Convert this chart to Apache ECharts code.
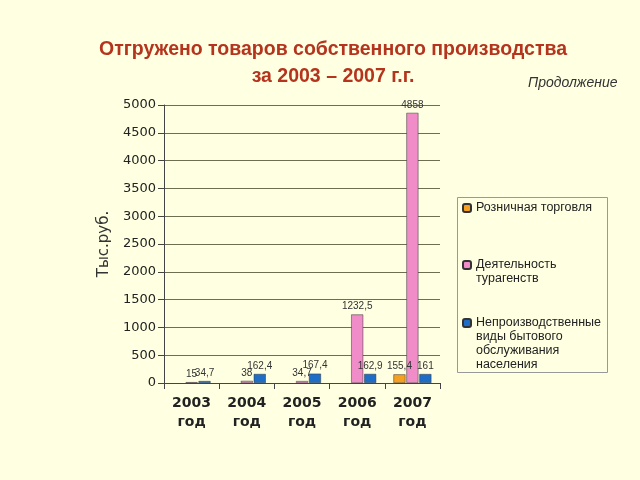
<!DOCTYPE html>
<html><head><meta charset="utf-8">
<script src="https://cdn.jsdelivr.net/npm/echarts@6/dist/echarts.min.js"></script>
<style>html,body{margin:0;padding:0;background:#FFFFE1;}#c{width:640px;height:480px;}</style>
</head><body><div id="c"></div>
<script>
var categories = ['2003\nгод', '2004\nгод', '2005\nгод', '2006\nгод', '2007\nгод'];
var retail = [null, null, null, null, 155.4];
var tourism = [15, 38, 34.7, 1232.5, 4858];
var services = [34.7, 162.4, 167.4, 162.9, 161];
var seriesNames = ['Розничная торговля', 'Деятельность\nтурагенств', 'Непроизводственные\nвиды бытового\nобслуживания\nнаселения'];
var yTicks = [0, 500, 1000, 1500, 2000, 2500, 3000, 3500, 4000, 4500, 5000];

var fmt = function (p) { return p.value == null ? '' : String(p.value).replace('.', ','); };
var lbl = { show: true, position: 'top', fontSize: 10, color: '#333', fontFamily: 'Liberation Sans', formatter: fmt, distance: 3 };
function mk(name, data, color) {
  return { name: name, type: 'bar', data: data, barWidth: 12, barGap: '8%',
    itemStyle: { color: color, borderColor: '#333', borderWidth: 0.5 }, label: lbl };
}
// put the legend marker beside the first line of a multi-line name
function firstLineFmt(name) {
  var n = name.split('\n').length;
  var pre = '';
  for (var i = 1; i < n; i++) pre += ' \n';
  return pre + name;
}
var chart = echarts.init(document.getElementById('c'));
var legendText = { fontSize: 12.5, color: '#222', fontFamily: 'Liberation Sans', lineHeight: 14 };
function lg(i, top) {
  return { data: [seriesNames[i]], left: 462, top: top, orient: 'vertical', padding: 0,
    itemWidth: 8, itemHeight: 8, textStyle: legendText, selectedMode: false, formatter: firstLineFmt };
}
chart.setOption({
  backgroundColor: '#FFFFE1',
  title: [{
    text: 'Отгружено товаров собственного производства\nза 2003 – 2007 г.г.',
    left: 328, top: 31, textAlign: 'center',
    textStyle: { fontSize: 19.5, fontWeight: 'bold', color: '#B5341E', fontFamily: 'Liberation Sans', lineHeight: 27 }
  }, {
    text: 'Продолжение', left: 523, top: 71,
    textStyle: { fontSize: 14, fontStyle: 'italic', fontWeight: 'normal', color: '#333', fontFamily: 'Liberation Sans' }
  }],
  graphic: [{ type: 'rect', shape: { x: 457.5, y: 197.5, width: 150, height: 175 }, style: { fill: '#FFFFE1', stroke: '#999', lineWidth: 1 }, z: 0 }],
  legend: [lg(0, 201), lg(1, 244), lg(2, 274)],
  grid: { left: 164, right: 200, top: 105, bottom: 97 },
  xAxis: {
    type: 'category', data: categories,
    axisLine: { lineStyle: { color: '#444' } },
    axisTick: { show: true, length: 6, lineStyle: { color: '#444' } },
    axisLabel: { fontSize: 14, fontWeight: 'bold', color: '#222', fontFamily: 'DejaVu Sans', lineHeight: 19, margin: 11 }
  },
  yAxis: {
    type: 'value', min: 0, max: 5000, interval: 500,
    name: 'Тыс.руб.', nameLocation: 'middle', nameGap: 52, nameRotate: 90,
    nameTextStyle: { fontSize: 15, color: '#333', fontFamily: 'DejaVu Sans' },
    axisLine: { show: true, lineStyle: { color: '#444' } },
    axisTick: { show: true, length: 6, lineStyle: { color: '#444' } },
    axisLabel: { fontSize: 13, color: '#222', fontFamily: 'DejaVu Sans', margin: 8,
      formatter: function (v) { return yTicks.indexOf(v) >= 0 ? String(v) : ''; } },
    splitLine: { lineStyle: { color: '#6e6e50', width: 1 } }
  },
  series: [
    mk(seriesNames[0], retail, '#F5A020'),
    mk(seriesNames[1], tourism, '#F08CC8'),
    mk(seriesNames[2], services, '#1E6EC8')
  ]
});
</script></body></html>
